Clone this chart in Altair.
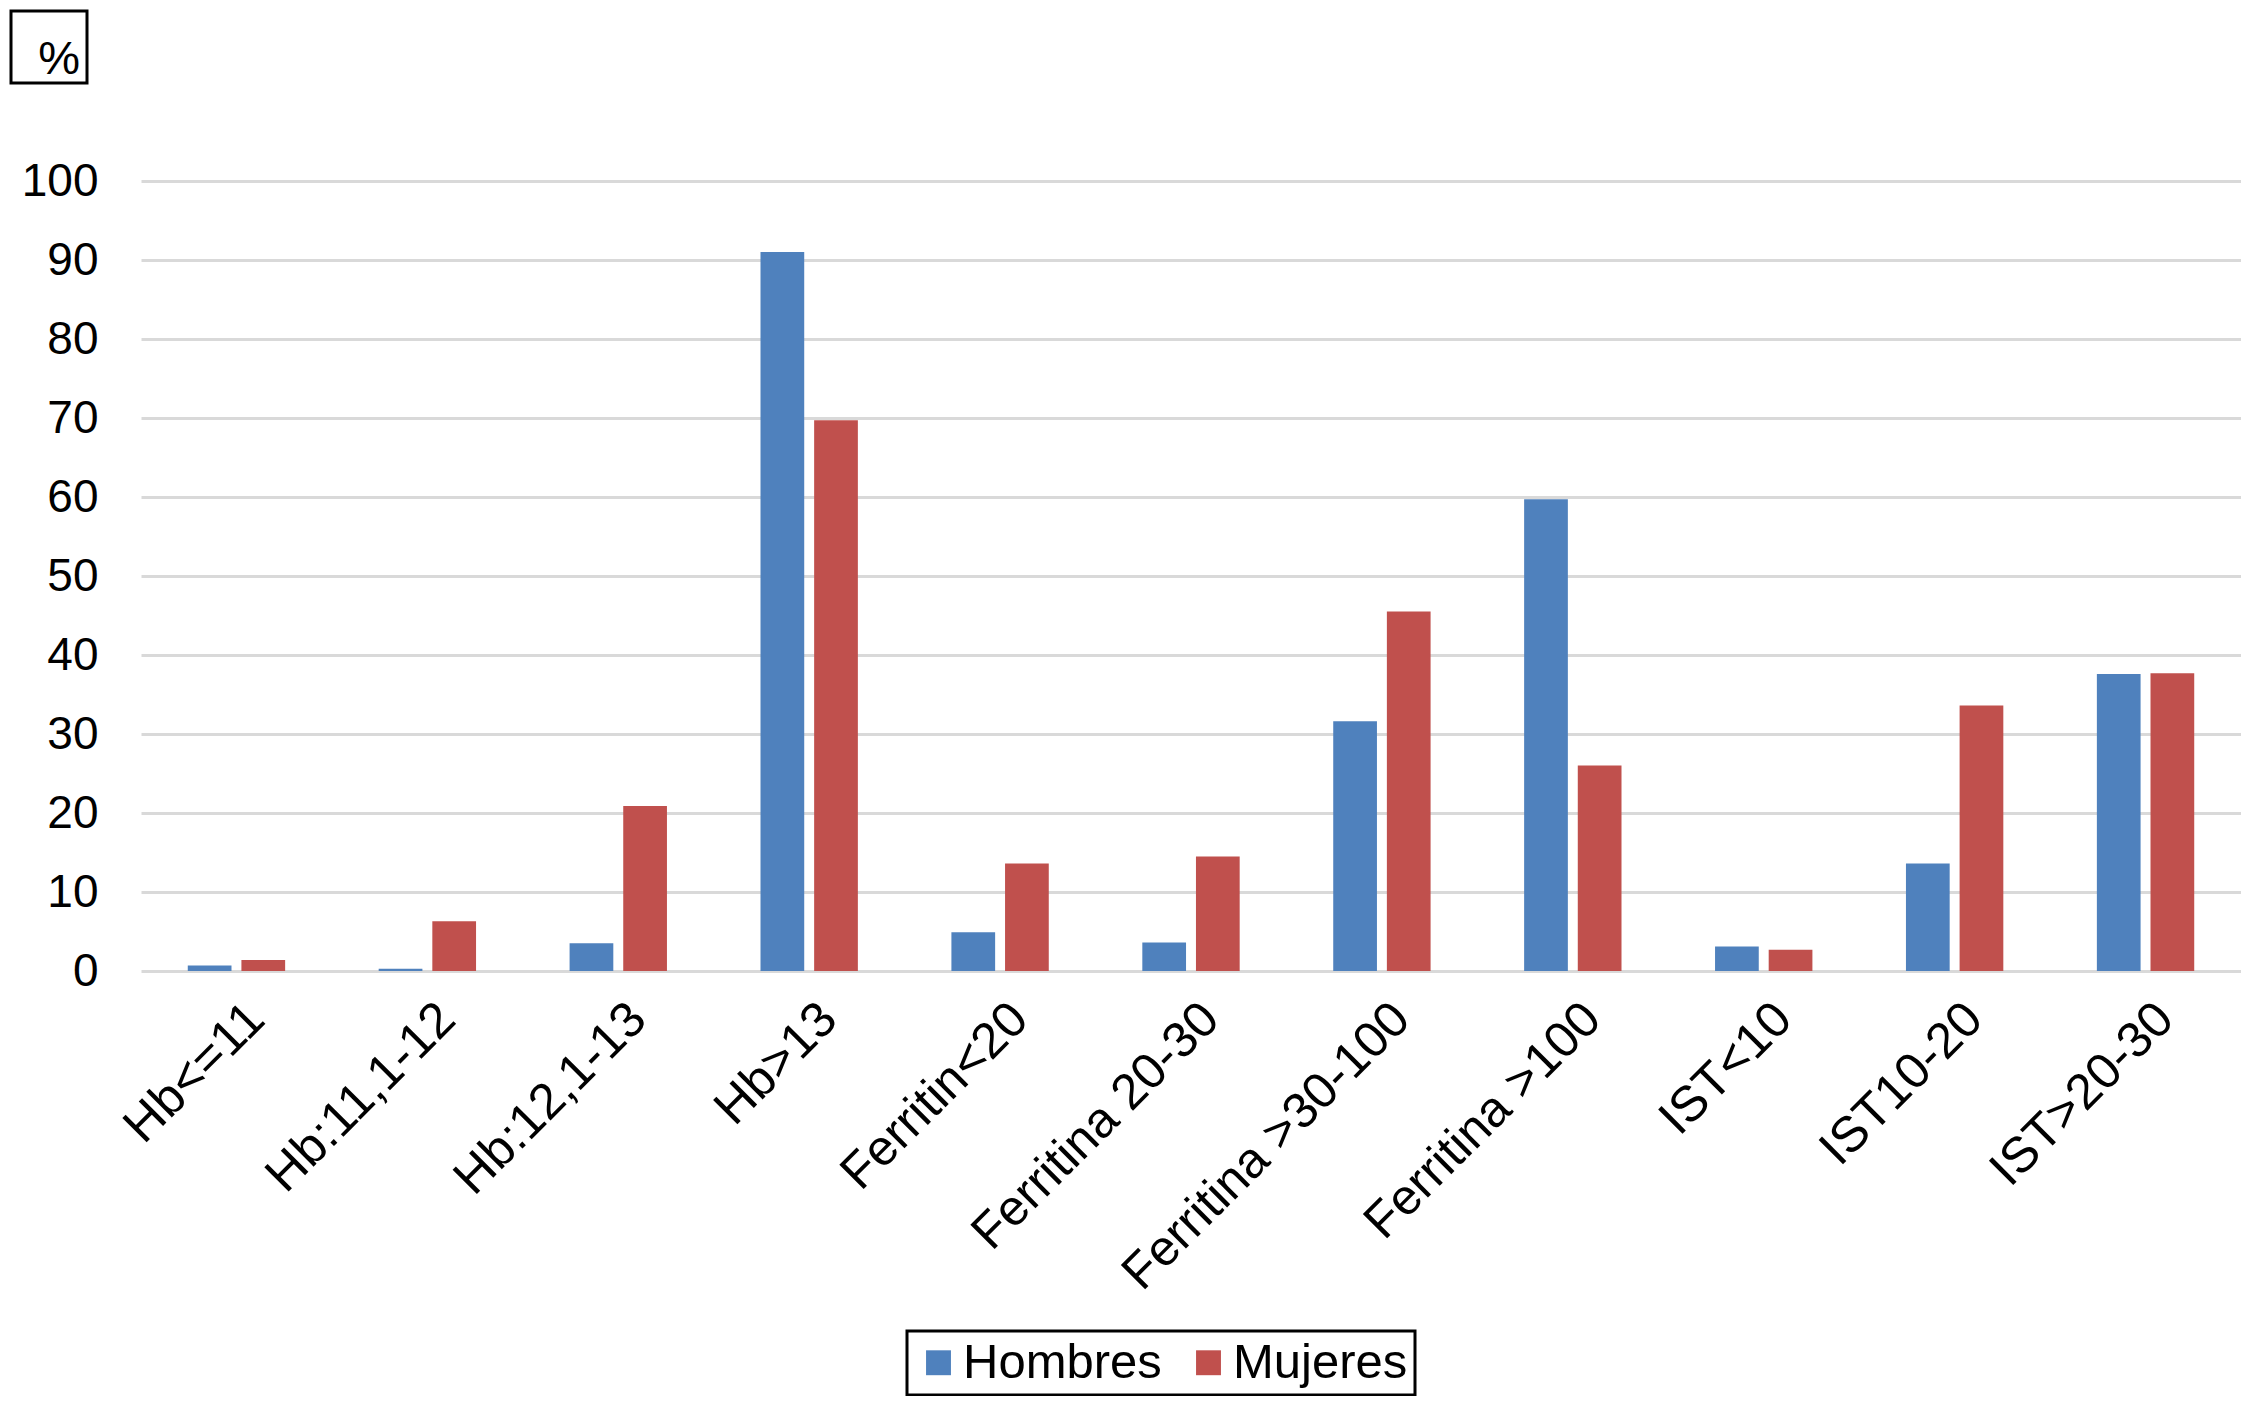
import altair as alt
import pandas as pd

categories = ["Hb<=11", "Hb:11,1-12", "Hb:12,1-13", "Hb>13", "Ferritin<20",
              "Ferritina 20-30", "Ferritina >30-100", "Ferritina >100",
              "IST<10", "IST10-20", "IST>20-30"]
series = ["Hombres", "Mujeres"]
hombres = [0.7, 0.3, 3.5, 91.0, 4.9, 3.6, 31.6, 59.7, 3.1, 13.6, 37.6]
mujeres = [1.4, 6.3, 20.9, 69.7, 13.6, 14.5, 45.5, 26.0, 2.7, 33.6, 37.7]
colors = ["#4F81BD", "#C0504D"]
y_ticks = list(range(0, 101, 10))

rows = []
for c, h, m in zip(categories, hombres, mujeres):
    rows.append({"cat": c, "sexo": "Hombres", "val": h})
    rows.append({"cat": c, "sexo": "Mujeres", "val": m})
df = pd.DataFrame(rows)

FONT = "Liberation Sans"

bars = alt.Chart(df).mark_bar().encode(
    x=alt.X("cat:N", sort=categories,
            scale=alt.Scale(paddingInner=0.49, paddingOuter=0.245),
            axis=alt.Axis(title=None, labelAngle=-45, labelAlign="right",
                          labelBaseline="middle", labelPadding=40, labelOffset=20,
                          ticks=False, domain=False, grid=False,
                          labelFont=FONT, labelFontSize=50, labelColor="black",
                          labelOverlap=False, labelLimit=1000)),
    xOffset=alt.XOffset("sexo:N", sort=series,
                        scale=alt.Scale(paddingInner=0.185, paddingOuter=0)),
    y=alt.Y("val:Q", scale=alt.Scale(domain=[0, 100], nice=False),
            axis=alt.Axis(title=None, values=y_ticks, ticks=False, domain=False,
                          grid=True, gridColor="#D9D9D9", gridWidth=3,
                          labelPadding=43, labelFont=FONT, labelFontSize=46,
                          labelColor="black")),
    color=alt.Color("sexo:N", sort=series,
                    scale=alt.Scale(domain=series, range=colors),
                    legend=alt.Legend(title=None, orient="none", legendX=766, legendY=1150,
                                      direction="horizontal", columns=2,
                                      symbolType="square", symbolSize=620,
                                      symbolStrokeWidth=0, symbolOpacity=1,
                                      labelFont=FONT, labelFontSize=49,
                                      labelColor="black", labelOffset=0,
                                      labelLimit=1000,
                                      columnPadding=22, padding=7,
                                      strokeColor="black")),
)

box_df = pd.DataFrame({"t": ["%"]})
box = alt.Chart(box_df).mark_rect(fillOpacity=0, stroke="black", strokeWidth=3).encode(
    x=alt.value(-130), x2=alt.value(-54), y=alt.value(-170), y2=alt.value(-98)
)
pct = alt.Chart(box_df).mark_text(align="right", baseline="alphabetic", font=FONT,
                                  fontSize=47, color="black").encode(
    text="t:N", x=alt.value(-61), y=alt.value(-107)
)

chart = alt.layer(bars, box, pct).properties(
    width=2100, height=790,
    autosize=alt.AutoSizeParams(type="none"),
    padding={"left": 133, "top": 173, "right": 0, "bottom": 425},
    background="white",
).configure_view(stroke=None).configure_legend(strokeWidth=3)

chart.save("out.html", embed_options={"renderer": "svg", "actions": False})
